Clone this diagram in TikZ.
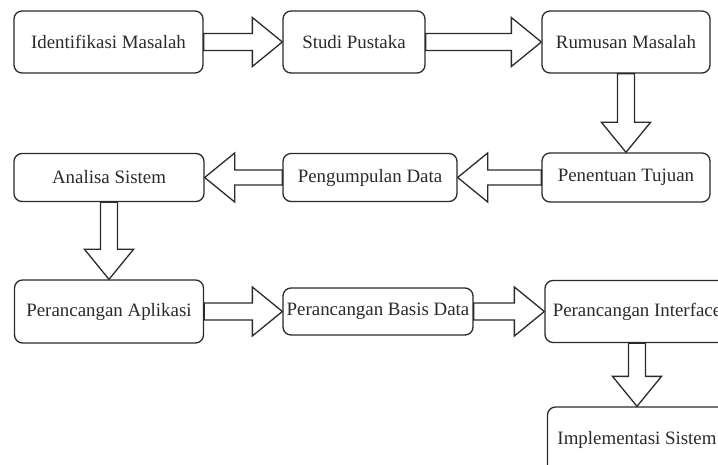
\documentclass[tikz,border=0pt]{standalone}
\usepackage{fontspec}
\setmainfont{Liberation Serif}
\usetikzlibrary{calc}

\definecolor{ink}{HTML}{2B2B2B}

\tikzset{
  stage/.style={draw=ink, line width=1.3pt, rounded corners=8pt, fill=white,
    inner sep=0pt, text=ink, font=\fontsize{18.9}{22}\selectfont},
  blockarrow/.style={draw=ink, line width=1.3pt, fill=white, line join=miter},
}

% Hollow block arrow from #1 to #2 (shaft half-width #3)
\newcommand\blockarrow[3][8.5pt]{%
  \coordinate (hb) at ($(#3)!30pt!(#2)$);
  \draw[blockarrow]
    ($(#2)!#1!90:(#3)$) -- ($(hb)!#1!90:(#3)$) -- ($(hb)!24.5pt!90:(#3)$)
    -- (#3)
    -- ($(hb)!24.5pt!-90:(#3)$) -- ($(hb)!#1!-90:(#3)$) -- ($(#2)!#1!-90:(#3)$) -- cycle;
}

\begin{document}
\begin{tikzpicture}[x=1pt, y=-1pt]
  \useasboundingbox (0,0) rectangle (718,465);
  \clip (0,0) rectangle (718,465);

  % first row
  \node[stage, minimum width=189pt, minimum height=62pt] (ident) at (108.5,42) {Identifikasi Masalah};
  \node[stage, minimum width=142pt, minimum height=62pt] (studi) at (354,42) {Studi Pustaka};
  \node[stage, minimum width=168pt, minimum height=62pt] (rumus) at (626,42) {Rumusan Masalah};

  % second row
  \node[stage, minimum width=168pt, minimum height=49pt] (tujuan) at (626,177.5) {Penentuan Tujuan};
  \node[stage, minimum width=174pt, minimum height=48pt] (kumpul) at (370,177.5) {Pengumpulan Data};
  \node[stage, minimum width=190pt, minimum height=48pt] (analisa) at (109,177.5) {Analisa Sistem};

  % third row
  \node[stage, minimum width=189pt, minimum height=63pt] (aplikasi) at (109,311.5) {Perancangan Aplikasi};
  \node[stage, minimum width=190pt, minimum height=47pt] (basis) at (378,311.5) {Perancangan Basis Data};
  \node[stage, minimum width=184pt, minimum height=62pt] (iface) at (637,311.5) {Perancangan Interface};

  % last step
  \node[stage, minimum width=179pt, minimum height=66pt] (impl) at (637,440) {Implementasi Sistem};

  % flow
  \blockarrow{ident.east}{studi.west}
  \blockarrow{studi.east}{rumus.west}
  \blockarrow{rumus.south}{tujuan.north}
  \blockarrow[7.5pt]{tujuan.west}{kumpul.east}
  \blockarrow[7.5pt]{kumpul.west}{analisa.east}
  \blockarrow{analisa.south}{aplikasi.north}
  \blockarrow{aplikasi.east}{basis.west}
  \blockarrow{basis.east}{iface.west}
  \blockarrow{iface.south}{impl.north}
\end{tikzpicture}
\end{document}
